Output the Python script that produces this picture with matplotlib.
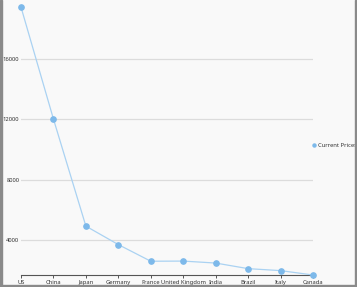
import matplotlib
matplotlib.use("Agg")
import matplotlib.pyplot as plt
from matplotlib.lines import Line2D
from matplotlib.patches import Rectangle

countries = ["US", "China", "Japan", "Germany", "France", "United Kingdom",
             "India", "Brazil", "Italy", "Canada"]
current_prices = [19400, 12000, 4920, 3700, 2600, 2610, 2480, 2110, 1980, 1690]
yticks = [4000, 8000, 12000, 16000]

W, H = 357, 287
bg = "#f9f9f9"
line_col = "#aad2f2"
mark_col = "#7db9ea"
fs = 4.2

plt.rcParams["font.family"] = ["Noto Sans", "DejaVu Sans"]
fig = plt.figure(figsize=(W / 100, H / 100), dpi=100, facecolor=bg)
ax = fig.add_axes([21 / W, (H - 275) / H, (313 - 21) / W, 275 / H])
ax.set_facecolor(bg)

x = list(range(len(countries)))
ax.plot(x, current_prices, color=line_col, lw=0.9, marker="o", ms=3.8,
        mfc=mark_col, mec=mark_col, zorder=3, clip_on=False)

ax.set_xlim(0, len(countries) - 1)
ax.set_ylim(min(current_prices), 19870)
ax.set_yticks(yticks)
ax.set_yticklabels([str(v) for v in yticks])
ax.set_xticks(x)
ax.set_xticklabels(countries)
ax.grid(axis="y", color="#dcdcdc", lw=0.9)
ax.set_axisbelow(True)
for s in ["top", "right", "left"]:
    ax.spines[s].set_visible(False)
ax.spines["bottom"].set_color("#555555")
ax.spines["bottom"].set_linewidth(0.8)
ax.tick_params(axis="y", length=0, pad=1.2, labelsize=fs, labelcolor="#333333")
ax.tick_params(axis="x", length=2.5, width=0.7, color="#555555", pad=1,
               labelsize=fs, labelcolor="#333333")

handle = Line2D([], [], marker="o", ls="None", ms=2.2, mfc=mark_col, mec=mark_col)
ax.legend([handle], ["Current Prices"], loc="center left",
          bbox_to_anchor=(312 / W, 1 - 145 / H), bbox_transform=fig.transFigure,
          frameon=False, fontsize=fs, handlelength=0.8, handletextpad=0.3,
          borderpad=0, borderaxespad=0, labelcolor="#333333")

# frame on left, right and bottom
fig.add_artist(Rectangle((0, 0), 1.5 / W, 1, transform=fig.transFigure,
                         color="#8a8a8a", zorder=10))
fig.add_artist(Rectangle((1 - 2 / W, 0), 2 / W, 1, transform=fig.transFigure,
                         color="#8a8a8a", zorder=10))
fig.add_artist(Rectangle((0, 0), 1, 2 / H, transform=fig.transFigure,
                         color="#8a8a8a", zorder=10))

fig.savefig("out.png", dpi=100, facecolor=bg)
